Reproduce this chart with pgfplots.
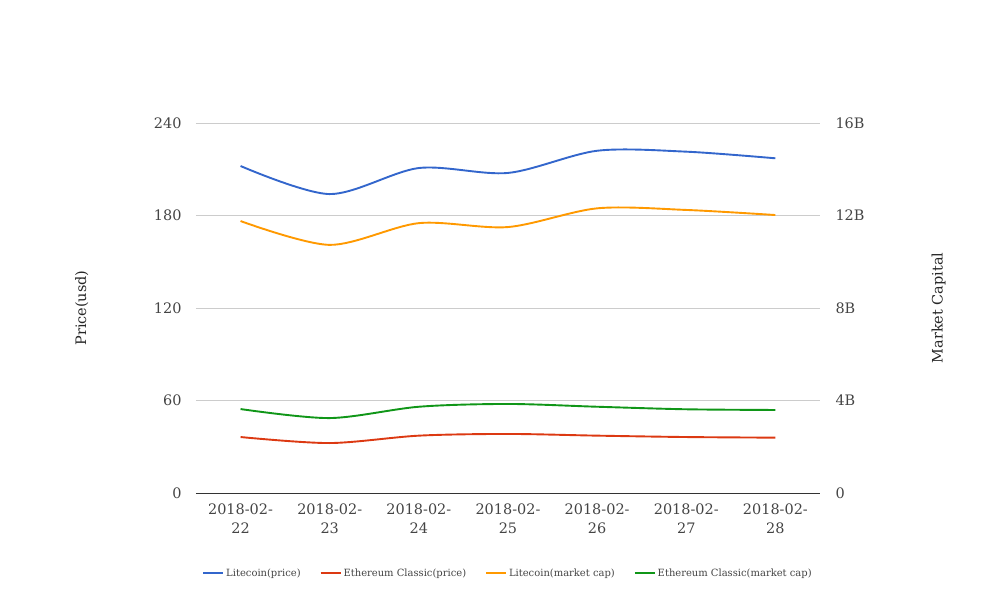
\documentclass[border=0pt]{standalone}
\usepackage{fontspec}
\setmainfont{DejaVu Serif}
\usepackage{pgfplots}
\pgfplotsset{compat=1.18}

\definecolor{cblue}{HTML}{3366CC}
\definecolor{cred}{HTML}{DC3912}
\definecolor{corange}{HTML}{FF9900}
\definecolor{cgreen}{HTML}{109618}
\definecolor{ctext}{HTML}{444444}
\definecolor{cgrid}{HTML}{CCCCCC}

\pgfplotsset{
  base/.style={
    scale only axis, width=624bp, height=370bp,
    at={(0,0)}, anchor=south west,
    xmin=-0.5, xmax=6.5,
    major tick length=0pt,
    /pgf/number format/assume math mode=true,
    tick label style={font=\fontsize{14.5}{19}\selectfont, text=ctext},
    label style={font=\fontsize{14.5}{17}\selectfont, text=black!85},
    every axis plot/.append style={smooth, line width=1.9bp, mark=none},
  },
}

\begin{document}
\begin{tikzpicture}
\path[use as bounding box] (-196bp,-123bp) rectangle (812bp,493bp);

\begin{axis}[
  base,
  ymin=0, ymax=240, ytick={0,60,120,180,240},
  axis y line*=left, axis x line*=bottom,
  y axis line style={draw=none},
  x axis line style={draw=black!80, line width=0.8bp},
  ymajorgrids, grid style={cgrid, line width=0.8bp},
  yticklabel style={xshift=-11bp},
  xtick={0,...,6},
  xticklabels={2018-02-\\22,2018-02-\\23,2018-02-\\24,2018-02-\\25,2018-02-\\26,2018-02-\\27,2018-02-\\28},
  xticklabel style={align=center, yshift=-7bp},
  ylabel={Price(usd)},
  ylabel style={at={(axis description cs:-0.183,0.5)}, anchor=center},
  legend style={at={(0.5,-80bp)}, anchor=center, draw=none, legend columns=4,
    font=\fontsize{10}{12}\selectfont, text=ctext,
    /tikz/every even column/.append style={column sep=17bp},
    /tikz/every odd column/.append style={column sep=0bp}},
  legend image code/.code={\draw[#1, line width=1.9bp] (0bp,0bp) -- (20bp,0bp);},
]
\addplot[cblue] coordinates {
  (0,212.1) (1,193.9) (2,210.8) (3,207.6) (4,222.0) (5,221.4) (6,217.1)
};
\addlegendentry{Litecoin(price)}
\addplot[cred] coordinates {
  (0,36.3) (1,32.4) (2,37.2) (3,38.3) (4,37.2) (5,36.3) (6,35.9)
};
\addlegendentry{Ethereum Classic(price)}
\addlegendimage{corange}
\addlegendentry{Litecoin(market cap)}
\addlegendimage{cgreen}
\addlegendentry{Ethereum Classic(market cap)}
\end{axis}

\begin{axis}[
  base,
  ymin=0, ymax=16, ytick={0,4,8,12,16},
  yticklabels={0,4B,8B,12B,16B},
  axis y line*=right, axis x line=none,
  y axis line style={draw=none},
  yticklabel style={xshift=12bp},
  ylabel={Market Capital},
  ylabel style={at={(axis description cs:1.19,0.5)}, anchor=center},
]
\addplot[corange] coordinates {
  (0,11.76) (1,10.73) (2,11.67) (3,11.50) (4,12.31) (5,12.24) (6,12.02)
};
\addplot[cgreen] coordinates {
  (0,3.63) (1,3.24) (2,3.73) (3,3.85) (4,3.73) (5,3.62) (6,3.59)
};
\end{axis}
\end{tikzpicture}
\end{document}
